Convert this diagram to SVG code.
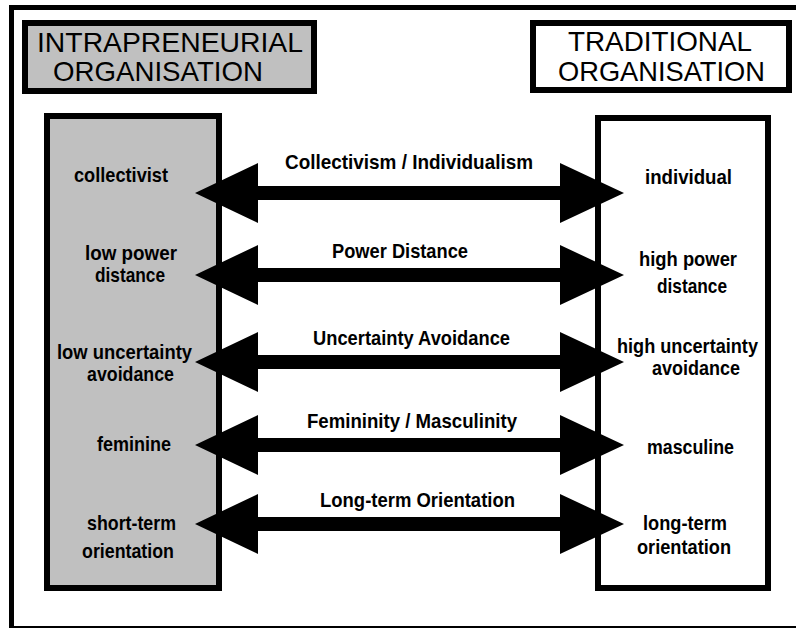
<svg xmlns="http://www.w3.org/2000/svg" xmlns:xlink="http://www.w3.org/1999/xlink" width="796" height="628" viewBox="0 0 796 628">
  <style>
    .frame { fill: #ffffff; stroke: #000000; stroke-width: 5; }
    .box { stroke: #000000; stroke-width: 6; }
    .grey { fill: #c0c0c0; }
    .white { fill: #ffffff; }
    .head { font-family: "Liberation Sans", Arial, sans-serif; font-size: 28px; fill: #000000; text-anchor: middle; }
    .lbl { font-family: "Liberation Sans", Arial, sans-serif; font-size: 20.5px; font-weight: bold; fill: #000000; text-anchor: middle; }
    .arrow { fill: #000000; }
  </style>
  <defs>
    <!-- double-headed block arrow centred on y = 0 -->
    <path id="dbl" d="M195,0 L258,-30 L258,-7 L560,-7 L560,-30 L624,0 L560,30 L560,7 L258,7 L258,30 Z"/>
  </defs>

  <rect x="0" y="0" width="796" height="628" fill="#ffffff"/>
  <rect class="frame" x="11.5" y="7.5" width="800" height="621"/>

  <g id="intrapreneurial-header">
    <rect class="box grey" x="25" y="23" width="289" height="68"/>
    <text class="head" x="170" y="52" textLength="266" lengthAdjust="spacingAndGlyphs">INTRAPRENEURIAL</text>
    <text class="head" x="158" y="81" textLength="210" lengthAdjust="spacingAndGlyphs">ORGANISATION</text>
  </g>

  <g id="traditional-header">
    <rect class="box white" x="533" y="23" width="256" height="67"/>
    <text class="head" x="660" y="51" textLength="184" lengthAdjust="spacingAndGlyphs">TRADITIONAL</text>
    <text class="head" x="661.5" y="81" textLength="207" lengthAdjust="spacingAndGlyphs">ORGANISATION</text>
  </g>

  <g id="intrapreneurial-column">
    <rect class="box grey" x="47" y="116" width="172" height="472"/>
    <text class="lbl" x="121" y="182" textLength="94" lengthAdjust="spacingAndGlyphs">collectivist</text>
    <text class="lbl" x="131" y="260" textLength="92" lengthAdjust="spacingAndGlyphs">low power</text>
    <text class="lbl" x="130" y="282" textLength="70" lengthAdjust="spacingAndGlyphs">distance</text>
    <text class="lbl" x="124.5" y="359" textLength="135" lengthAdjust="spacingAndGlyphs">low uncertainty</text>
    <text class="lbl" x="130.5" y="381" textLength="87" lengthAdjust="spacingAndGlyphs">avoidance</text>
    <text class="lbl" x="134" y="451" textLength="74" lengthAdjust="spacingAndGlyphs">feminine</text>
    <text class="lbl" x="131.5" y="530" textLength="89" lengthAdjust="spacingAndGlyphs">short-term</text>
    <text class="lbl" x="128" y="558" textLength="92" lengthAdjust="spacingAndGlyphs">orientation</text>
  </g>

  <g id="traditional-column">
    <rect class="box white" x="598" y="118" width="170" height="470"/>
    <text class="lbl" x="688.5" y="184" textLength="87" lengthAdjust="spacingAndGlyphs">individual</text>
    <text class="lbl" x="688" y="266" textLength="98" lengthAdjust="spacingAndGlyphs">high power</text>
    <text class="lbl" x="692" y="293" textLength="70" lengthAdjust="spacingAndGlyphs">distance</text>
    <text class="lbl" x="687.5" y="353" textLength="141" lengthAdjust="spacingAndGlyphs">high uncertainty</text>
    <text class="lbl" x="696" y="375" textLength="88" lengthAdjust="spacingAndGlyphs">avoidance</text>
    <text class="lbl" x="690.5" y="454" textLength="87" lengthAdjust="spacingAndGlyphs">masculine</text>
    <text class="lbl" x="685" y="530" textLength="84" lengthAdjust="spacingAndGlyphs">long-term</text>
    <text class="lbl" x="684" y="554" textLength="94" lengthAdjust="spacingAndGlyphs">orientation</text>
  </g>

  <g id="connectors">
    <use class="arrow" xlink:href="#dbl" href="#dbl" y="193"/>
    <use class="arrow" xlink:href="#dbl" href="#dbl" y="275"/>
    <use class="arrow" xlink:href="#dbl" href="#dbl" y="362"/>
    <use class="arrow" xlink:href="#dbl" href="#dbl" y="445"/>
    <use class="arrow" xlink:href="#dbl" href="#dbl" y="524"/>
    <text class="lbl" x="409" y="169" textLength="248" lengthAdjust="spacingAndGlyphs">Collectivism / Individualism</text>
    <text class="lbl" x="400" y="258" textLength="136" lengthAdjust="spacingAndGlyphs">Power Distance</text>
    <text class="lbl" x="411.5" y="345" textLength="197" lengthAdjust="spacingAndGlyphs">Uncertainty Avoidance</text>
    <text class="lbl" x="412" y="428" textLength="210" lengthAdjust="spacingAndGlyphs">Femininity / Masculinity</text>
    <text class="lbl" x="417.5" y="507" textLength="195" lengthAdjust="spacingAndGlyphs">Long-term Orientation</text>
  </g>
</svg>
